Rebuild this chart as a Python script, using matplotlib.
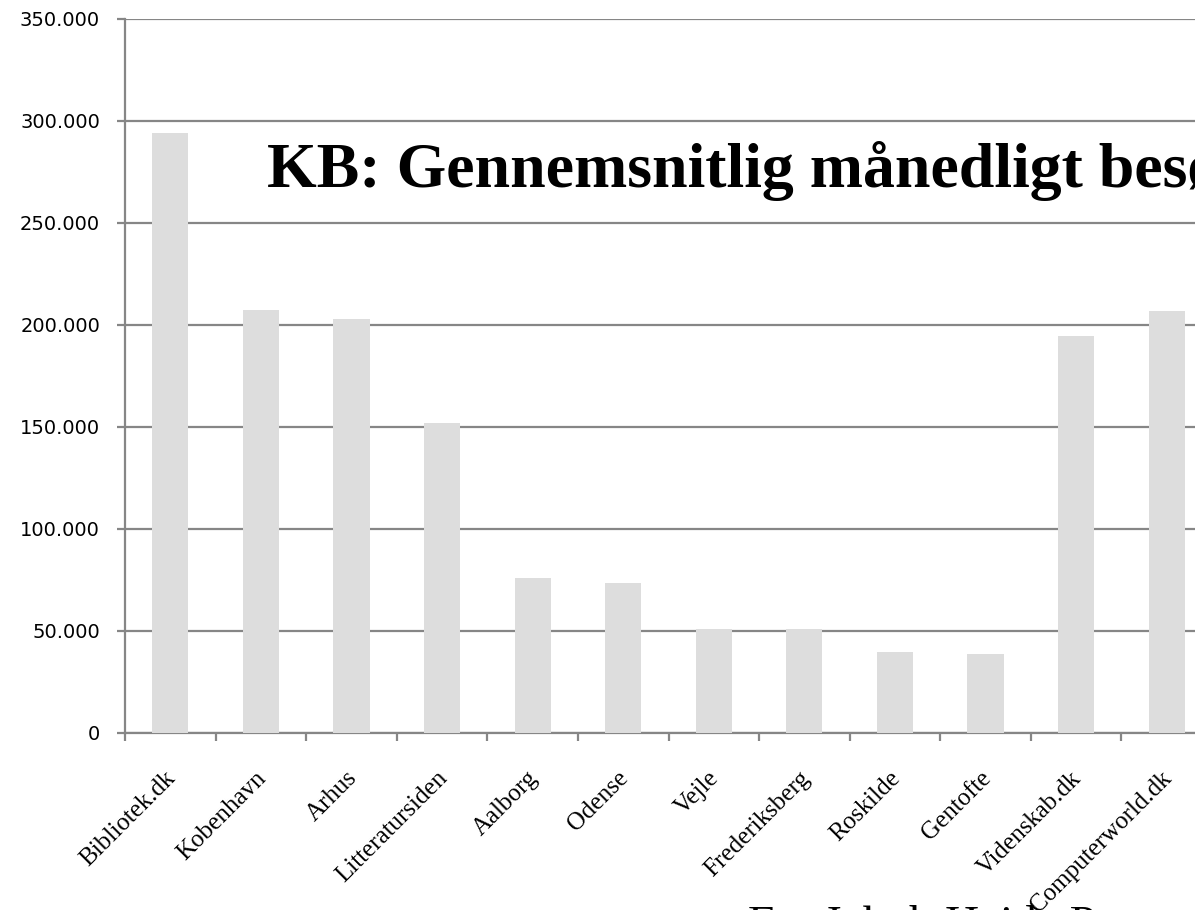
import matplotlib.pyplot as plt
import matplotlib.ticker as ticker
import matplotlib.transforms as mtransforms
import numpy as np

# data
sites = ['Bibliotek.dk', 'Kobenhavn', 'Arhus', 'Litteratursiden', 'Aalborg', 'Odense',
         'Vejle', 'Frederiksberg', 'Roskilde', 'Gentofte', 'Videnskab.dk', 'Computerworld.dk']
visits = [294000, 207500, 203000, 152000, 76000, 73500,
          51000, 51000, 39700, 38800, 194500, 207000]
title_text = 'KB: Gennemsnitlig månedligt besøgstal'
source_text = 'Fra Jakob Heide Petersen'

fig = plt.figure(figsize=(11.95, 9.10), dpi=100)
ax = fig.add_axes([125 / 1195, 177 / 910, 1087 / 1195, 714 / 910])

x = np.arange(len(sites))
ax.bar(x, visits, width=0.4, color='#dddddd', zorder=3)

grid_col = '#868686'
ax.set_ylim(0, 350000)
ax.set_xlim(-0.5, len(sites) - 0.5)
ax.yaxis.set_major_locator(ticker.MultipleLocator(50000))
ax.yaxis.set_major_formatter(ticker.FuncFormatter(lambda v, p: f'{int(v):,}'.replace(',', '.')))
ax.grid(axis='y', color=grid_col, linewidth=1.6, zorder=1)
ax.set_axisbelow(True)

for s in ['top', 'right']:
    ax.spines[s].set_visible(False)
for s in ['left', 'bottom']:
    ax.spines[s].set_color(grid_col)
    ax.spines[s].set_linewidth(1.6)

ax.tick_params(axis='y', direction='out', length=6, width=1.6, color=grid_col,
               labelsize=14, pad=12, labelcolor='black')
for lab in ax.get_yticklabels():
    lab.set_family('DejaVu Sans')

# category labels at centres, tick marks at boundaries
ax.set_xticks(x)
ax.set_xticklabels(sites, rotation=45, ha='right', rotation_mode='anchor',
                   family='Liberation Serif', fontsize=18)
ax.tick_params(axis='x', which='major', length=0, pad=26)
shift = mtransforms.ScaledTranslation(-6 / 100, 2 / 100, fig.dpi_scale_trans)
for lab in ax.get_xticklabels():
    lab.set_transform(lab.get_transform() + shift)
ax.set_xticks(np.arange(-0.5, len(sites), 1.0), minor=True)
ax.tick_params(axis='x', which='minor', direction='out', length=6, width=1.6, color=grid_col)

fig.text(267 / 1195, (910 - 187) / 910, title_text, family='Liberation Serif',
         fontweight='bold', fontsize=46, ha='left', va='baseline')
fig.text(748 / 1195, (910 - 938) / 910, source_text, family='Liberation Serif',
         fontsize=34, ha='left', va='baseline')

fig.savefig('out.png', dpi=100)
